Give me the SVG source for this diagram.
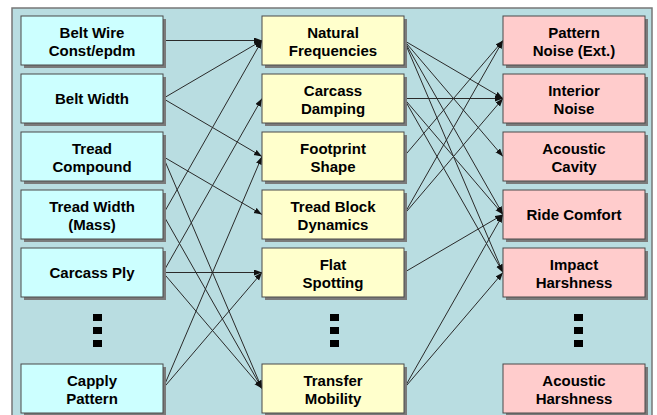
<svg xmlns="http://www.w3.org/2000/svg" width="657" height="415" viewBox="0 0 657 415">
<style>
.sh{fill:#7a7a7a}
.bx{stroke:#4a4a4a;stroke-width:1}
.l{fill:#ccffff}
.m{fill:#ffffcc}
.r{fill:#ffcccc}
text{font-family:"Liberation Sans",Arial,sans-serif;font-weight:bold;font-size:15px;fill:#000;text-anchor:middle}
.c line{stroke:#2a2a2a;stroke-width:1;marker-end:url(#ah)}
.dot{fill:#000}
</style>
<defs>
<marker id="ah" markerUnits="userSpaceOnUse" markerWidth="9" markerHeight="7" refX="8" refY="3" orient="auto">
<path d="M0,0 L8,3 L0,6 z" fill="#111"/>
</marker>
</defs>
<rect x="0" y="0" width="657" height="415" fill="#ffffff"/>
<rect x="12" y="8" width="640" height="420" fill="#b9dde1" stroke="#777" stroke-width="1.5"/>

<g class="c" id="connectors">
<line x1="163" y1="40.5" x2="262" y2="40.5"/>
<line x1="163" y1="98.5" x2="262" y2="40.5"/>
<line x1="163" y1="98.5" x2="262" y2="156.5"/>
<line x1="163" y1="156.5" x2="262" y2="214.5"/>
<line x1="163" y1="156.5" x2="262" y2="388.5"/>
<line x1="163" y1="214.5" x2="262" y2="40.5"/>
<line x1="163" y1="214.5" x2="262" y2="388.5"/>
<line x1="163" y1="272.5" x2="262" y2="98.5"/>
<line x1="163" y1="272.5" x2="262" y2="272.5"/>
<line x1="163" y1="272.5" x2="262" y2="388.5"/>
<line x1="163" y1="388.5" x2="262" y2="156.5"/>
<line x1="163" y1="388.5" x2="262" y2="272.5"/>

<line x1="404" y1="40.5" x2="503" y2="98.5"/>
<line x1="404" y1="40.5" x2="503" y2="156.5"/>
<line x1="404" y1="40.5" x2="503" y2="214.5"/>
<line x1="404" y1="40.5" x2="503" y2="272.5"/>
<line x1="404" y1="98.5" x2="503" y2="98.5"/>
<line x1="404" y1="98.5" x2="503" y2="214.5"/>
<line x1="404" y1="98.5" x2="503" y2="272.5"/>
<line x1="404" y1="156.5" x2="503" y2="40.5"/>
<line x1="404" y1="214.5" x2="503" y2="40.5"/>
<line x1="404" y1="214.5" x2="503" y2="98.5"/>
<line x1="404" y1="272.5" x2="503" y2="214.5"/>
<line x1="404" y1="388.5" x2="503" y2="214.5"/>
<line x1="404" y1="388.5" x2="503" y2="272.5"/>
</g>

<g id="belt-wire"><rect class="sh" x="24" y="19" width="142" height="49"/><rect class="bx l" x="21" y="16" width="142" height="49"/><text x="92" y="37.5">Belt Wire</text><text x="92" y="55.5">Const/epdm</text></g>
<g id="belt-width"><rect class="sh" x="24" y="77" width="142" height="49"/><rect class="bx l" x="21" y="74" width="142" height="49"/><text x="92" y="104">Belt Width</text></g>
<g id="tread-compound"><rect class="sh" x="24" y="135" width="142" height="49"/><rect class="bx l" x="21" y="132" width="142" height="49"/><text x="92" y="153.5">Tread</text><text x="92" y="171.5">Compound</text></g>
<g id="tread-width"><rect class="sh" x="24" y="193" width="142" height="49"/><rect class="bx l" x="21" y="190" width="142" height="49"/><text x="92" y="211.5">Tread Width</text><text x="92" y="229.5">(Mass)</text></g>
<g id="carcass-ply"><rect class="sh" x="24" y="251" width="142" height="49"/><rect class="bx l" x="21" y="248" width="142" height="49"/><text x="92" y="278">Carcass Ply</text></g>
<g id="left-dots"><rect class="dot" x="93" y="314" width="9" height="7"/><rect class="dot" x="93" y="327" width="9" height="7"/><rect class="dot" x="93" y="340" width="9" height="7"/></g>
<g id="capply-pattern"><rect class="sh" x="24" y="367" width="142" height="49"/><rect class="bx l" x="21" y="364" width="142" height="49"/><text x="92" y="385.5">Capply</text><text x="92" y="403.5">Pattern</text></g>

<g id="natural-frequencies"><rect class="sh" x="265" y="19" width="142" height="49"/><rect class="bx m" x="262" y="16" width="142" height="49"/><text x="333" y="37.5">Natural</text><text x="333" y="55.5">Frequencies</text></g>
<g id="carcass-damping"><rect class="sh" x="265" y="77" width="142" height="49"/><rect class="bx m" x="262" y="74" width="142" height="49"/><text x="333" y="95.5">Carcass</text><text x="333" y="113.5">Damping</text></g>
<g id="footprint-shape"><rect class="sh" x="265" y="135" width="142" height="49"/><rect class="bx m" x="262" y="132" width="142" height="49"/><text x="333" y="153.5">Footprint</text><text x="333" y="171.5">Shape</text></g>
<g id="tread-block-dynamics"><rect class="sh" x="265" y="193" width="142" height="49"/><rect class="bx m" x="262" y="190" width="142" height="49"/><text x="333" y="211.5">Tread Block</text><text x="333" y="229.5">Dynamics</text></g>
<g id="flat-spotting"><rect class="sh" x="265" y="251" width="142" height="49"/><rect class="bx m" x="262" y="248" width="142" height="49"/><text x="333" y="269.5">Flat</text><text x="333" y="287.5">Spotting</text></g>
<g id="middle-dots"><rect class="dot" x="330" y="314" width="9" height="7"/><rect class="dot" x="330" y="327" width="9" height="7"/><rect class="dot" x="330" y="340" width="9" height="7"/></g>
<g id="transfer-mobility"><rect class="sh" x="265" y="367" width="142" height="49"/><rect class="bx m" x="262" y="364" width="142" height="49"/><text x="333" y="385.5">Transfer</text><text x="333" y="403.5">Mobility</text></g>

<g id="pattern-noise"><rect class="sh" x="506" y="19" width="142" height="49"/><rect class="bx r" x="503" y="16" width="142" height="49"/><text x="574" y="37.5">Pattern</text><text x="574" y="55.5">Noise (Ext.)</text></g>
<g id="interior-noise"><rect class="sh" x="506" y="77" width="142" height="49"/><rect class="bx r" x="503" y="74" width="142" height="49"/><text x="574" y="95.5">Interior</text><text x="574" y="113.5">Noise</text></g>
<g id="acoustic-cavity"><rect class="sh" x="506" y="135" width="142" height="49"/><rect class="bx r" x="503" y="132" width="142" height="49"/><text x="574" y="153.5">Acoustic</text><text x="574" y="171.5">Cavity</text></g>
<g id="ride-comfort"><rect class="sh" x="506" y="193" width="142" height="49"/><rect class="bx r" x="503" y="190" width="142" height="49"/><text x="574" y="220">Ride Comfort</text></g>
<g id="impact-harshness"><rect class="sh" x="506" y="251" width="142" height="49"/><rect class="bx r" x="503" y="248" width="142" height="49"/><text x="574" y="269.5">Impact</text><text x="574" y="287.5">Harshness</text></g>
<g id="right-dots"><rect class="dot" x="574" y="314" width="9" height="7"/><rect class="dot" x="574" y="327" width="9" height="7"/><rect class="dot" x="574" y="340" width="9" height="7"/></g>
<g id="acoustic-harshness"><rect class="sh" x="506" y="367" width="142" height="49"/><rect class="bx r" x="503" y="364" width="142" height="49"/><text x="574" y="385.5">Acoustic</text><text x="574" y="403.5">Harshness</text></g>
</svg>
